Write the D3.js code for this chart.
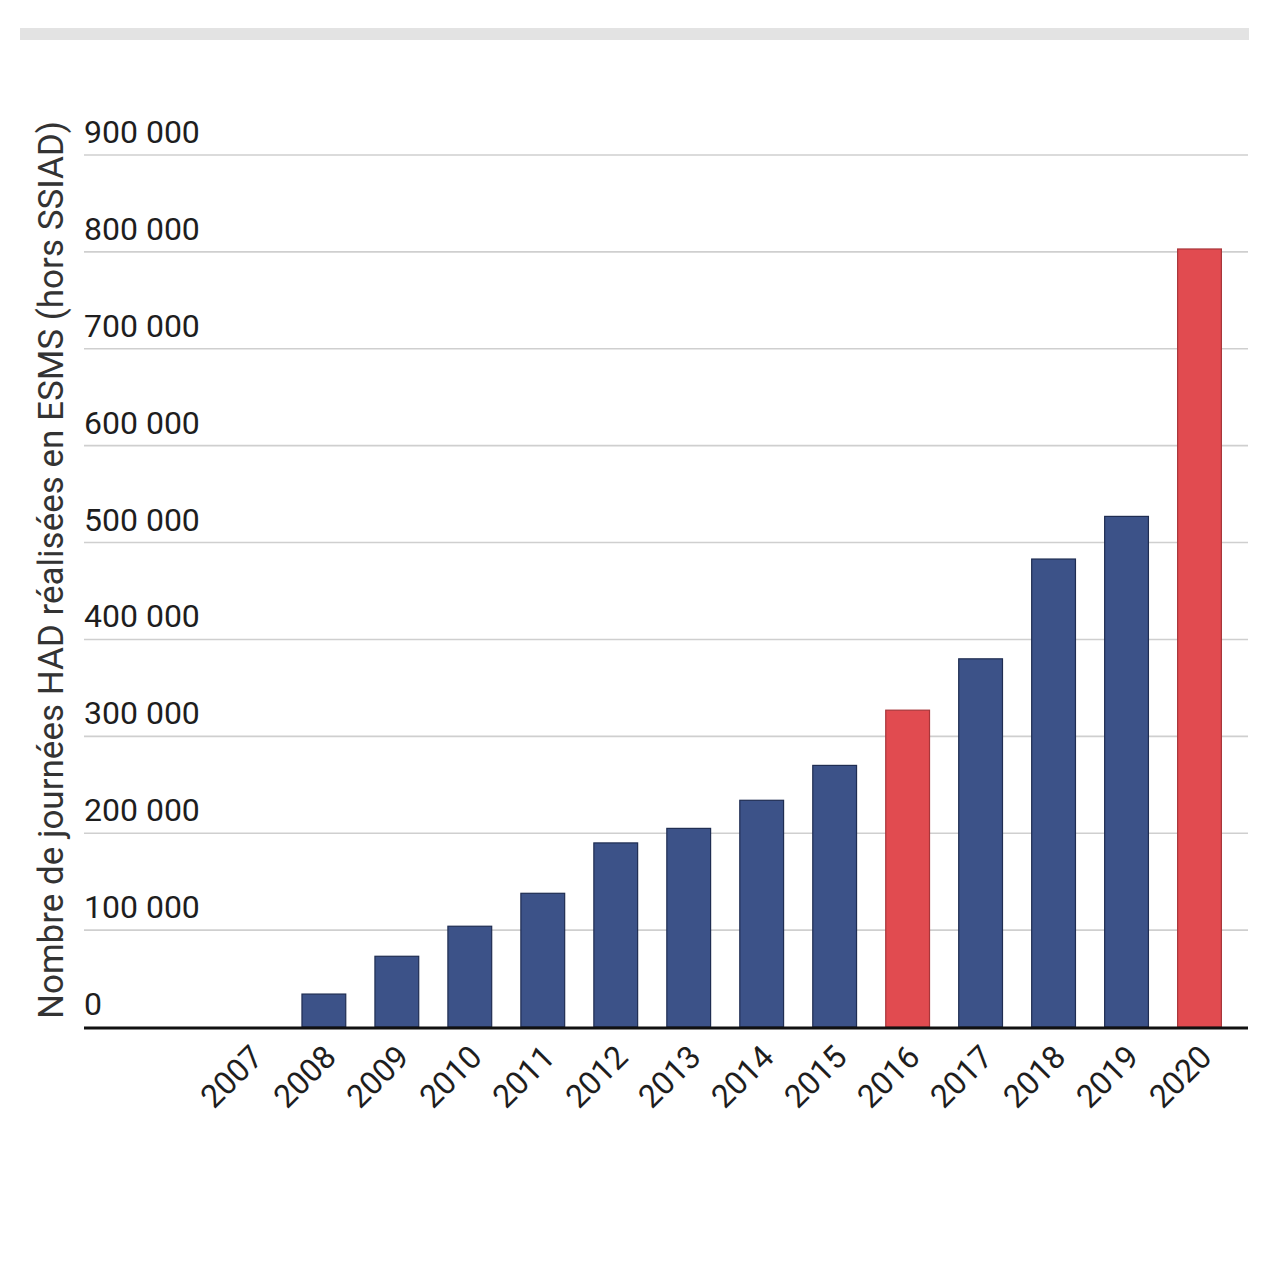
<!DOCTYPE html>
<html>
<head>
<meta charset="utf-8">
<script src="https://cdn.jsdelivr.net/npm/d3@7"></script>
<style>
  html, body { margin: 0; padding: 0; background: #fff; }
  svg { display: block; }
</style>
</head>
<body>
<svg id="chart" width="1280" height="1280"></svg>
<script>
const years = ["2007","2008","2009","2010","2011","2012","2013","2014","2015","2016","2017","2018","2019","2020"];
const values = [0, 34000, 73000, 104000, 138000, 190000, 205000, 234000, 270000, 327000, 380000, 483000, 527000, 803000];
const highlighted = ["2016", "2020"];
const yTicks = [0, 100000, 200000, 300000, 400000, 500000, 600000, 700000, 800000, 900000];
const yTitle = "Nombre de journées HAD réalisées en ESMS (hors SSIAD)";

const svg = d3.select("#chart");
const font = "Roboto, 'Noto Sans', sans-serif";

// top grey band
svg.append("rect").attr("x", 20).attr("y", 28).attr("width", 1229).attr("height", 12).attr("fill", "#e3e3e3");

const plotLeft = 84, plotRight = 1248;
const y = d3.scaleLinear().domain([0, 900000]).range([1027, 155]);
const x = d3.scaleBand().domain(years).range([214.4, 1236]).paddingInner(0.4).paddingOuter(0.2);

// gridlines
svg.append("g").selectAll("line").data(yTicks.filter(d => d > 0)).join("line")
  .attr("x1", plotLeft).attr("x2", plotRight)
  .attr("y1", d => y(d)).attr("y2", d => y(d))
  .attr("stroke", "#cfcfcf").attr("stroke-width", 1.6);

// y tick labels
const fmt = d => d3.format(",")(d).replace(/,/g, " ");
svg.append("g").selectAll("text").data(yTicks).join("text")
  .attr("x", plotLeft).attr("y", d => y(d) - 12)
  .attr("font-family", font).attr("font-size", 32).attr("fill", "#1e1e1e")
  .text(fmt);

// bars
svg.append("g").selectAll("rect").data(years.map((yr, i) => ({yr, v: values[i]})).filter(d => d.v > 0)).join("rect")
  .attr("x", d => x(d.yr)).attr("width", x.bandwidth())
  .attr("y", d => y(d.v)).attr("height", d => y(0) - y(d.v))
  .attr("fill", d => highlighted.includes(d.yr) ? "#e14b50" : "#3c5288")
  .attr("stroke", d => highlighted.includes(d.yr) ? "#a8363a" : "#1f2d52")
  .attr("stroke-width", 1.2);

// baseline
svg.append("line").attr("x1", plotLeft).attr("x2", plotRight)
  .attr("y1", y(0) + 1).attr("y2", y(0) + 1)
  .attr("stroke", "#111").attr("stroke-width", 3);

// x labels
svg.append("g").selectAll("text").data(years).join("text")
  .attr("transform", d => `translate(${x(d) + x.bandwidth() / 2 + 14},${1059}) rotate(-45)`)
  .attr("text-anchor", "end")
  .attr("font-family", font).attr("font-size", 32).attr("fill", "#1e1e1e")
  .text(d => d);

// y title
svg.append("text")
  .attr("transform", `translate(63,570) rotate(-90)`)
  .attr("text-anchor", "middle")
  .attr("font-family", font).attr("font-size", 35).attr("fill", "#333")
  .text(yTitle);
</script>
</body>
</html>
